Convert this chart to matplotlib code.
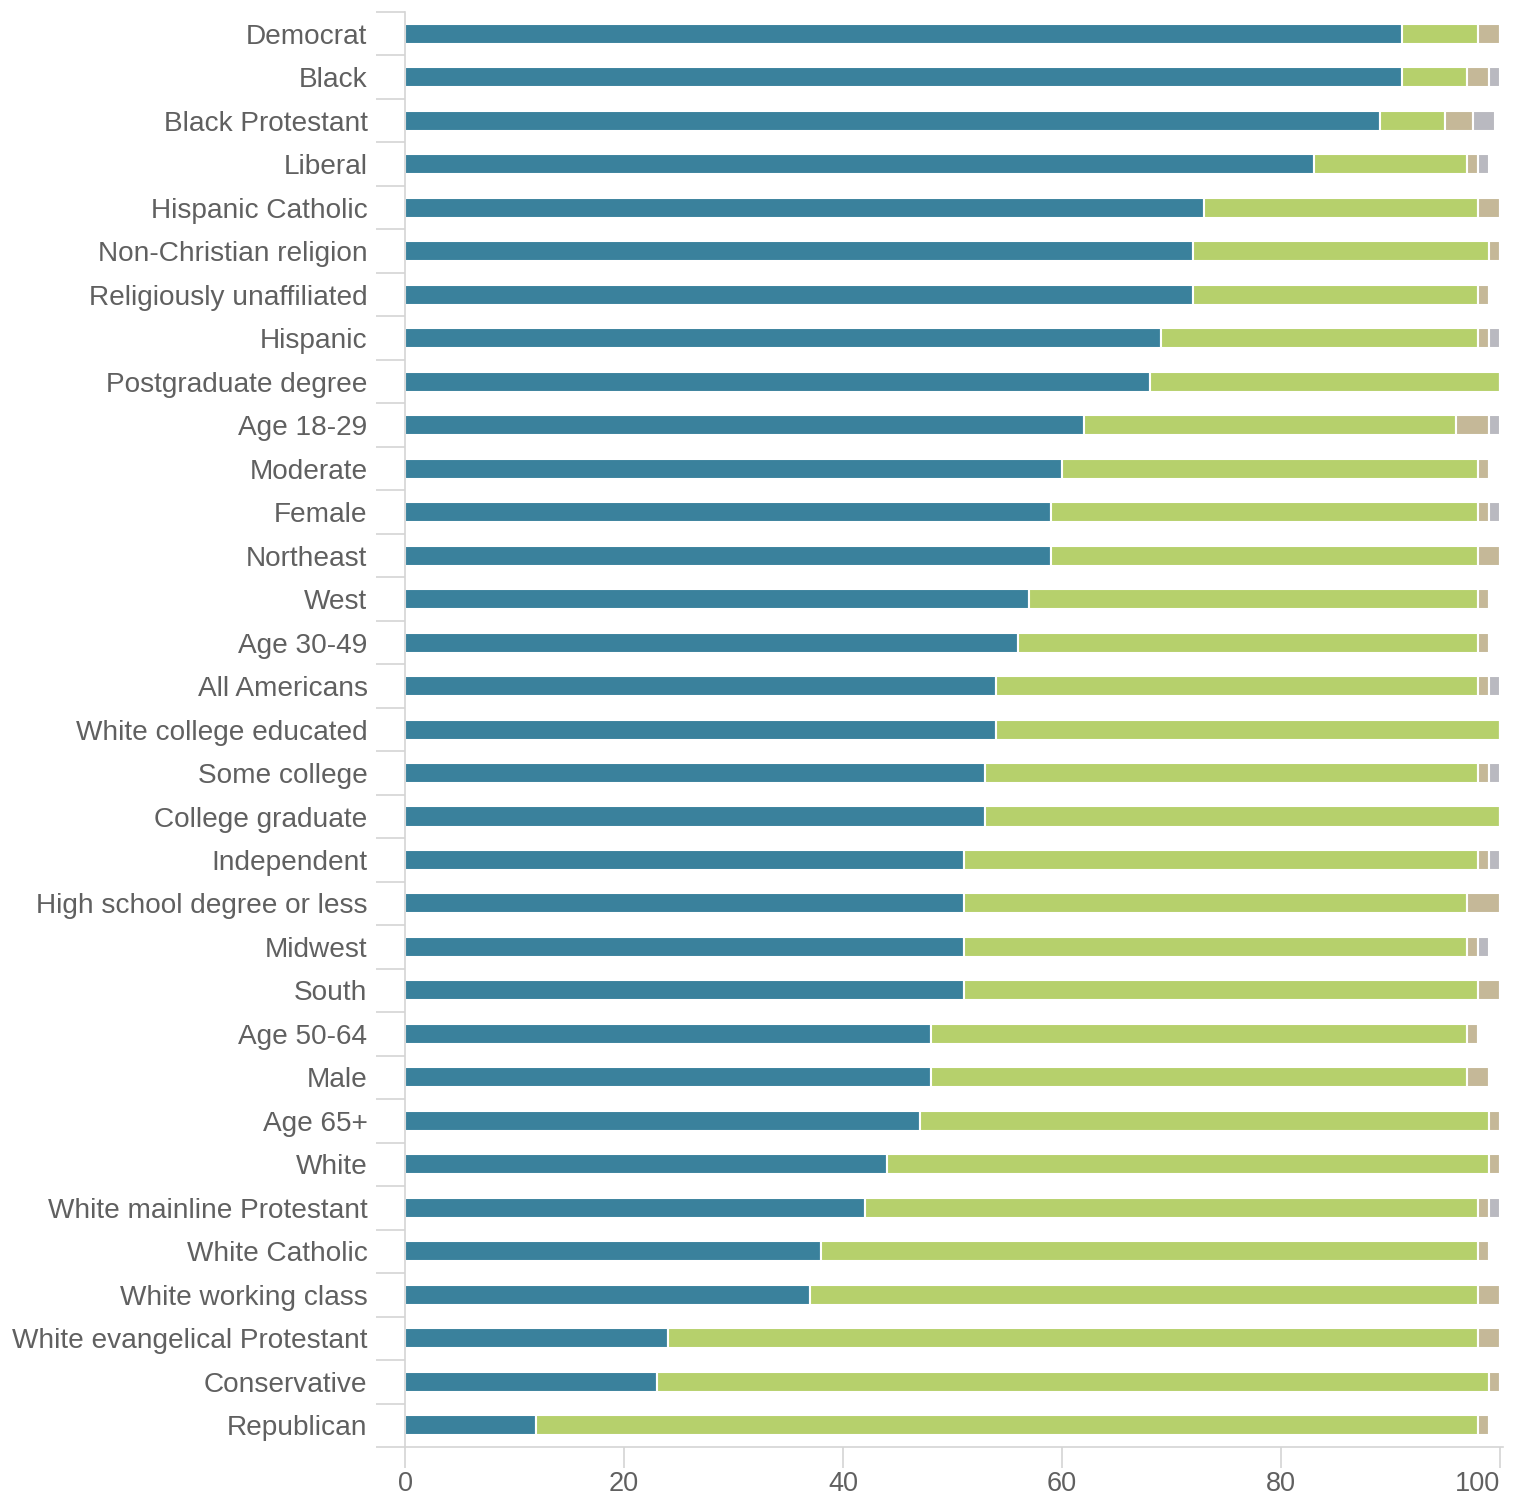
import matplotlib.pyplot as plt
import numpy as np

groups = ["Democrat", "Black", "Black Protestant", "Liberal", "Hispanic Catholic",
          "Non-Christian religion", "Religiously unaffiliated", "Hispanic",
          "Postgraduate degree", "Age 18-29", "Moderate", "Female", "Northeast",
          "West", "Age 30-49", "All Americans", "White college educated",
          "Some college", "College graduate", "Independent",
          "High school degree or less", "Midwest", "South", "Age 50-64", "Male",
          "Age 65+", "White", "White mainline Protestant", "White Catholic",
          "White working class", "White evangelical Protestant", "Conservative",
          "Republican"]

# four answer segments per group (percent)
seg1 = [91, 91, 89, 83, 73, 72, 72, 69, 68, 62, 60, 59, 59, 57, 56, 54, 54,
        53, 53, 51, 51, 51, 51, 48, 48, 47, 44, 42, 38, 37, 24, 23, 12]
seg2 = [7, 6, 6, 14, 25, 27, 26, 29, 32, 34, 38, 39, 39, 41, 42, 44, 46,
        45, 47, 47, 46, 46, 47, 49, 49, 52, 55, 56, 60, 61, 74, 76, 86]
seg3 = [2, 2, 2.5, 1, 2, 1, 1, 1, 0, 3, 1, 1, 2, 1, 1, 1, 0,
        1, 0, 1, 3, 1, 2, 1, 2, 1, 1, 1, 1, 2, 2, 1, 1]
seg4 = [0, 1, 2, 1, 0, 0, 0, 1, 0, 1, 0, 1, 0, 0, 0, 1, 0,
        1, 0, 1, 0, 1, 0, 0, 0, 0, 0, 1, 0, 0, 0, 0, 0]

colors = ["#3a819c", "#b6d06c", "#c5b898", "#b9b9c0"]
text_col = "#606060"
axis_col = "#d4d4d4"

fig = plt.figure(figsize=(15.17, 14.98), dpi=100)
ax = fig.add_axes([0.267, 0.034, 0.724, 0.958])

y = np.arange(len(groups))
left = np.zeros(len(groups))
for vals, c in zip([seg1, seg2, seg3, seg4], colors):
    vals = np.array(vals, dtype=float)
    ax.barh(y, vals, left=left, height=0.46, color=c, edgecolor="white",
            linewidth=1.5)
    left += vals

ax.set_ylim(len(groups) - 0.5, -0.5)
ax.set_xlim(0, 100.3)

ax.set_yticks(y)
ax.set_yticklabels(groups, fontsize=20.2, color=text_col, family="Liberation Sans")
ax.set_yticks(np.arange(-0.5, len(groups), 1), minor=True)
ax.tick_params(axis="y", which="major", length=0, pad=27)
ax.tick_params(axis="y", which="minor", length=21, color=axis_col, width=1.2)

ax.set_xticks([0, 20, 40, 60, 80, 100])
xlabels = ax.set_xticklabels(["0", "20", "40", "60", "80", "100"], fontsize=19.5,
                             color=text_col, family="Liberation Sans")
xlabels[-1].set_horizontalalignment("right")
ax.tick_params(axis="x", length=15, color=axis_col, width=1.2, pad=2)

for s in ["top", "right"]:
    ax.spines[s].set_visible(False)
for s in ["left", "bottom"]:
    ax.spines[s].set_color(axis_col)
    ax.spines[s].set_linewidth(1.2)

fig.savefig("out.png", dpi=100, facecolor="white")
